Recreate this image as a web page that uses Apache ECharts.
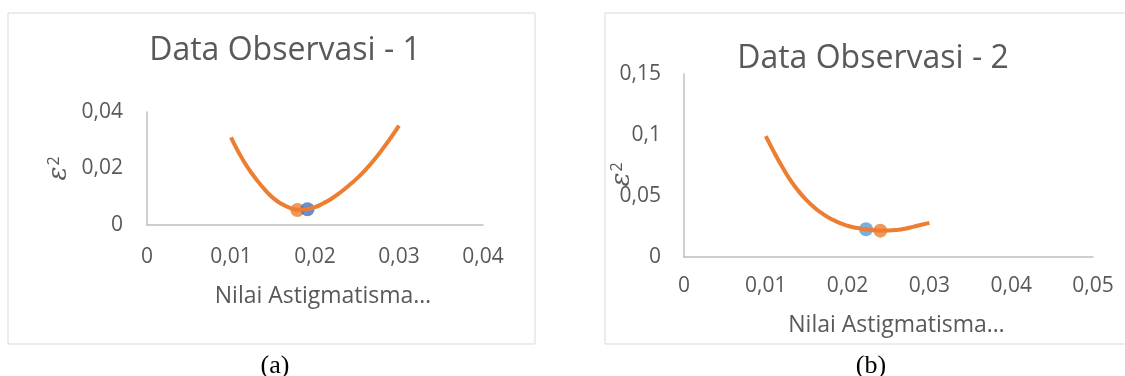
<!DOCTYPE html>
<html>
<head>
<meta charset="utf-8">
<script src="https://cdn.jsdelivr.net/npm/echarts@6/dist/echarts.min.js"></script>
<style>
  html, body { margin: 0; padding: 0; background: #ffffff; }
  #chart { width: 1125px; height: 376px; }
</style>
</head>
<body>
<div id="chart"></div>
<script>
// Astigmatism value sweep (x) and squared error (y) for each observation
const astig = [0.010, 0.011, 0.012, 0.013, 0.014, 0.015, 0.016, 0.017, 0.018, 0.019, 0.020,
               0.021, 0.022, 0.023, 0.024, 0.025, 0.026, 0.027, 0.028, 0.029, 0.030];
const err1 = [0.0310, 0.0252, 0.0203, 0.0162, 0.0126, 0.0096, 0.0075, 0.0061, 0.0054, 0.0056, 0.0063,
              0.0077, 0.0094, 0.0115, 0.0139, 0.0165, 0.0195, 0.0229, 0.0267, 0.0308, 0.0352];
const err2 = [0.0990, 0.0860, 0.0740, 0.0630, 0.0540, 0.0465, 0.0402, 0.0352, 0.0312, 0.0279, 0.0256,
              0.0240, 0.0229, 0.0221, 0.0216, 0.0217, 0.0222, 0.0232, 0.0247, 0.0264, 0.0280];

// Highlighted minimum points [astigmatism, error]
const minOrange1 = [0.0179, 0.0053];
const minBlue1 = [0.0191, 0.0056];
const minOrange2 = [0.0240, 0.0216];
const minBlue2 = [0.02225, 0.0227];

// Titles and axis text
const titles = ['Data Observasi - 1', 'Data Observasi - 2'];
const captions = ['(a)', '(b)'];
const xName = 'Nilai Astigmatisma…';

const FONT = '"Open Sans", "Noto Sans", sans-serif';
const GREY = '#595959';
const ORANGE = '#ED7D31';

const pairs = (xs, ys) => xs.map((x, i) => [x, ys[i]]);
const fmt = v => String(+v.toFixed(4)).replace('.', ',');

function xAxisCfg(gridIndex, max, margin, nameGap) {
  return {
    type: 'value', gridIndex, min: 0, max, interval: 0.01,
    name: xName, nameLocation: 'middle', nameGap, nameMoveOverlap: false,
    nameTextStyle: { color: GREY, fontFamily: FONT, fontSize: 23, padding: [0, 0, 0, 16] },
    axisLine: { show: true, onZero: false, lineStyle: { color: '#bfbfbf', width: 1.5 } },
    axisTick: { show: false },
    splitLine: { show: false },
    axisLabel: { color: GREY, fontFamily: FONT, fontSize: 21, margin, formatter: fmt }
  };
}

function yAxisCfg(gridIndex, max, interval, margin, nameGap, namePadRight) {
  return {
    type: 'value', gridIndex, min: 0, max, interval,
    name: '{e|ε}{s|2}', nameLocation: 'middle', nameGap, nameRotate: 90, nameMoveOverlap: false,
    nameTextStyle: {
      color: GREY, padding: [0, namePadRight, 0, 0],
      rich: {
        e: { fontFamily: '"DejaVu Serif", serif', fontStyle: 'italic', fontSize: 26, color: GREY },
        s: { fontFamily: FONT, fontSize: 16, color: GREY, verticalAlign: 'top', padding: [0, 0, 10, 1] }
      }
    },
    axisLine: { show: true, lineStyle: { color: '#bfbfbf', width: 1.5 } },
    axisTick: { show: false },
    splitLine: { show: false },
    axisLabel: { color: GREY, fontFamily: FONT, fontSize: 21, margin, formatter: fmt }
  };
}

const chart = echarts.init(document.getElementById('chart'), null, { renderer: 'canvas' });

chart.setOption({
  animation: false,
  backgroundColor: '#ffffff',
  graphic: [
    { type: 'rect', shape: { x: 8, y: 13, width: 527, height: 331 },
      style: { fill: 'none', stroke: '#d9d9d9', lineWidth: 1 }, silent: true },
    { type: 'rect', shape: { x: 605, y: 13, width: 525, height: 331 },
      style: { fill: 'none', stroke: '#d9d9d9', lineWidth: 1 }, silent: true }
  ],
  title: [
    { text: titles[0], left: 280, top: 30, textAlign: 'center',
      textStyle: { color: GREY, fontFamily: FONT, fontSize: 32, fontWeight: 'normal' } },
    { text: titles[1], left: 868, top: 38, textAlign: 'center',
      textStyle: { color: GREY, fontFamily: FONT, fontSize: 32, fontWeight: 'normal' } },
    { text: captions[0], left: 270, top: 348, textAlign: 'center',
      textStyle: { color: '#000000', fontFamily: '"Liberation Serif", serif', fontSize: 26, fontWeight: 'normal' } },
    { text: captions[1], left: 866, top: 348, textAlign: 'center',
      textStyle: { color: '#000000', fontFamily: '"Liberation Serif", serif', fontSize: 26, fontWeight: 'normal' } }
  ],
  grid: [
    { left: 147, top: 112, right: 642, bottom: 151 },
    { left: 684, top: 74, right: 32, bottom: 119 }
  ],
  xAxis: [
    xAxisCfg(0, 0.04, 22, 60),
    xAxisCfg(1, 0.05, 19, 57)
  ],
  yAxis: [
    yAxisCfg(0, 0.04, 0.02, 24, 75, 0),
    yAxisCfg(1, 0.15, 0.05, 23, 49, 18)
  ],
  series: [
    { name: 'kurva 1', type: 'line', xAxisIndex: 0, yAxisIndex: 0,
      data: pairs(astig, err1), smooth: true, showSymbol: false,
      lineStyle: { color: ORANGE, width: 4 } },
    { name: 'min 1a', type: 'scatter', xAxisIndex: 0, yAxisIndex: 0,
      data: [minOrange1], symbolSize: 14, itemStyle: { color: ORANGE } },
    { name: 'min 1b', type: 'scatter', xAxisIndex: 0, yAxisIndex: 0,
      data: [minBlue1], symbolSize: 14, itemStyle: { color: '#4472C4' } },
    { name: 'kurva 2', type: 'line', xAxisIndex: 1, yAxisIndex: 1,
      data: pairs(astig, err2), smooth: true, showSymbol: false,
      lineStyle: { color: ORANGE, width: 4 } },
    { name: 'min 2b', type: 'scatter', xAxisIndex: 1, yAxisIndex: 1,
      data: [minBlue2], symbolSize: 14, itemStyle: { color: '#5B9BD5' } },
    { name: 'min 2a', type: 'scatter', xAxisIndex: 1, yAxisIndex: 1,
      data: [minOrange2], symbolSize: 14, itemStyle: { color: ORANGE } }
  ]
});
</script>
</body>
</html>
